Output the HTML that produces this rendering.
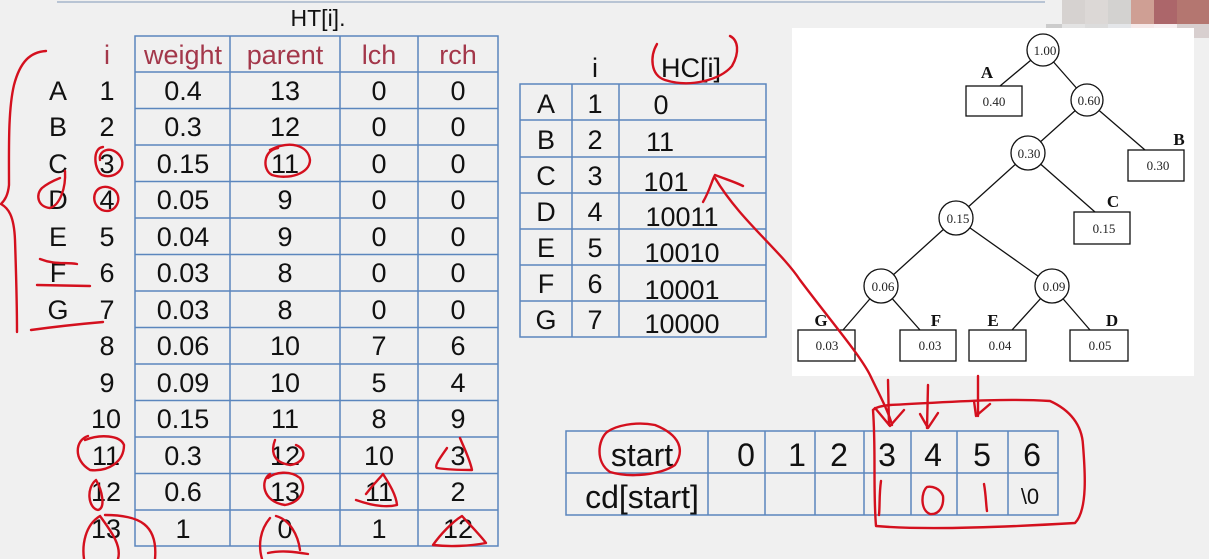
<!DOCTYPE html>
<html><head><meta charset="utf-8"><style>
html,body{margin:0;padding:0;background:#f0f0f0;}
svg{display:block;}
.t{font-family:"Liberation Sans","Noto Sans CJK SC",sans-serif;font-size:27px;fill:#111;text-anchor:middle;}
.h{fill:#a3374a;}
.u{font-size:32px;}
.s{font-family:"Liberation Serif",serif;font-size:13px;fill:#222;text-anchor:middle;}
.b{font-family:"Liberation Serif",serif;font-size:17px;font-weight:bold;fill:#111;text-anchor:middle;}
.r{fill:none;stroke:#d4101e;stroke-width:2.4;stroke-linecap:round;stroke-linejoin:round;}
</style></head><body>
<svg width="1209" height="559" viewBox="0 0 1209 559" xmlns="http://www.w3.org/2000/svg">
<rect width="1209" height="559" fill="#f0f0f0"/>
<line x1="57" y1="2" x2="1045" y2="2" stroke="#b8c4d4" stroke-width="2"/>
<rect x="1062" y="0" width="23" height="24" fill="#d6d2d0"/><rect x="1085" y="0" width="23" height="24" fill="#dcd8d6"/><rect x="1108" y="0" width="23" height="24" fill="#d3d2d0"/><rect x="1131" y="0" width="23" height="24" fill="#cf9f94"/><rect x="1154" y="0" width="23" height="24" fill="#ac666a"/><rect x="1177" y="0" width="32" height="24" fill="#b47670"/>
<rect x="1046" y="24" width="16" height="14" fill="#cccccc"/><rect x="1062" y="24" width="23" height="14" fill="#e3e3e3"/><rect x="1085" y="24" width="23" height="14" fill="#dcdcdc"/><rect x="1108" y="24" width="23" height="14" fill="#e4e6e9"/><rect x="1131" y="24" width="23" height="14" fill="#f5e8e8"/><rect x="1154" y="24" width="23" height="14" fill="#f7eef0"/><rect x="1177" y="24" width="32" height="14" fill="#d8cfcf"/>

<text class="t" x="318" y="26" style="font-size:23px">HT[i].</text>
<g stroke="#5b86bd" stroke-width="1.5" fill="none">
<rect x="135" y="36" width="363" height="510"/>
<line x1="230" y1="36" x2="230" y2="546"/><line x1="340" y1="36" x2="340" y2="546"/><line x1="418" y1="36" x2="418" y2="546"/>
<line x1="135" y1="72" x2="498" y2="72"/><line x1="135" y1="108.5" x2="498" y2="108.5"/><line x1="135" y1="145" x2="498" y2="145"/><line x1="135" y1="181.5" x2="498" y2="181.5"/><line x1="135" y1="218" x2="498" y2="218"/><line x1="135" y1="254.5" x2="498" y2="254.5"/><line x1="135" y1="291" x2="498" y2="291"/><line x1="135" y1="327.5" x2="498" y2="327.5"/><line x1="135" y1="364" x2="498" y2="364"/><line x1="135" y1="400.5" x2="498" y2="400.5"/><line x1="135" y1="437" x2="498" y2="437"/><line x1="135" y1="473.5" x2="498" y2="473.5"/><line x1="135" y1="510" x2="498" y2="510"/>
</g>
<text class="t h" x="107" y="64">i</text><text class="t h" x="183" y="64">weight</text><text class="t h" x="285" y="64">parent</text><text class="t h" x="379" y="64">lch</text><text class="t h" x="458" y="64">rch</text>
<g>
<text class="t" x="58" y="100">A</text><text class="t" x="107" y="100">1</text><text class="t" x="183" y="100">0.4</text><text class="t" x="285" y="100">13</text><text class="t" x="379" y="100">0</text><text class="t" x="458" y="100">0</text>
<text class="t" x="58" y="136">B</text><text class="t" x="107" y="136">2</text><text class="t" x="183" y="136">0.3</text><text class="t" x="285" y="136">12</text><text class="t" x="379" y="136">0</text><text class="t" x="458" y="136">0</text>
<text class="t" x="58" y="173">C</text><text class="t" x="107" y="173">3</text><text class="t" x="183" y="173">0.15</text><text class="t" x="285" y="173">11</text><text class="t" x="379" y="173">0</text><text class="t" x="458" y="173">0</text>
<text class="t" x="58" y="209">D</text><text class="t" x="107" y="209">4</text><text class="t" x="183" y="209">0.05</text><text class="t" x="285" y="209">9</text><text class="t" x="379" y="209">0</text><text class="t" x="458" y="209">0</text>
<text class="t" x="58" y="246">E</text><text class="t" x="107" y="246">5</text><text class="t" x="183" y="246">0.04</text><text class="t" x="285" y="246">9</text><text class="t" x="379" y="246">0</text><text class="t" x="458" y="246">0</text>
<text class="t" x="58" y="282">F</text><text class="t" x="107" y="282">6</text><text class="t" x="183" y="282">0.03</text><text class="t" x="285" y="282">8</text><text class="t" x="379" y="282">0</text><text class="t" x="458" y="282">0</text>
<text class="t" x="58" y="319">G</text><text class="t" x="107" y="319">7</text><text class="t" x="183" y="319">0.03</text><text class="t" x="285" y="319">8</text><text class="t" x="379" y="319">0</text><text class="t" x="458" y="319">0</text>
<text class="t" x="107" y="355">8</text><text class="t" x="183" y="355">0.06</text><text class="t" x="285" y="355">10</text><text class="t" x="379" y="355">7</text><text class="t" x="458" y="355">6</text>
<text class="t" x="107" y="392">9</text><text class="t" x="183" y="392">0.09</text><text class="t" x="285" y="392">10</text><text class="t" x="379" y="392">5</text><text class="t" x="458" y="392">4</text>
<text class="t" x="106" y="428">10</text><text class="t" x="183" y="428">0.15</text><text class="t" x="285" y="428">11</text><text class="t" x="379" y="428">8</text><text class="t" x="458" y="428">9</text>
<text class="t" x="106" y="465">11</text><text class="t" x="183" y="465">0.3</text><text class="t" x="285" y="465">12</text><text class="t" x="379" y="465">10</text><text class="t" x="458" y="465">3</text>
<text class="t" x="106" y="501">12</text><text class="t" x="183" y="501">0.6</text><text class="t" x="285" y="501">13</text><text class="t" x="379" y="501">11</text><text class="t" x="458" y="501">2</text>
<text class="t" x="106" y="538">13</text><text class="t" x="183" y="538">1</text><text class="t" x="285" y="538">0</text><text class="t" x="379" y="538">1</text><text class="t" x="458" y="538">12</text>
</g>

<text class="t" x="595" y="77">i</text><text class="t" x="691" y="77">HC[i]</text>
<g stroke="#5b86bd" stroke-width="1.5" fill="none">
<rect x="520" y="84" width="246" height="253"/>
<line x1="572" y1="84" x2="572" y2="337"/><line x1="619" y1="84" x2="619" y2="337"/>
<line x1="520" y1="120" x2="766" y2="120"/><line x1="520" y1="157" x2="766" y2="157"/><line x1="520" y1="193" x2="766" y2="193"/><line x1="520" y1="229" x2="766" y2="229"/><line x1="520" y1="265" x2="766" y2="265"/><line x1="520" y1="301" x2="766" y2="301"/>
</g>
<text class="t" x="546" y="113">A</text><text class="t" x="595" y="113">1</text><text class="t" x="661" y="114">0</text>
<text class="t" x="546" y="149">B</text><text class="t" x="595" y="149">2</text><text class="t" x="660" y="151">11</text>
<text class="t" x="546" y="185">C</text><text class="t" x="595" y="185">3</text><text class="t" x="666" y="191">101</text>
<text class="t" x="546" y="221">D</text><text class="t" x="595" y="221">4</text><text class="t" x="682" y="226">10011</text>
<text class="t" x="546" y="257">E</text><text class="t" x="595" y="257">5</text><text class="t" x="682" y="262">10010</text>
<text class="t" x="546" y="293">F</text><text class="t" x="595" y="293">6</text><text class="t" x="682" y="299">10001</text>
<text class="t" x="546" y="329">G</text><text class="t" x="595" y="329">7</text><text class="t" x="682" y="333">10000</text>

<rect x="792" y="28" width="402" height="348" fill="#fff"/>
<g stroke="#111" stroke-width="1.3" fill="none">
<line x1="1043" y1="50" x2="1000" y2="86"/><line x1="1043" y1="50" x2="1087" y2="100"/>
<line x1="1087" y1="100" x2="1028" y2="153"/><line x1="1087" y1="100" x2="1145" y2="150"/>
<line x1="1028" y1="153" x2="956" y2="218"/><line x1="1028" y1="153" x2="1095" y2="212"/>
<line x1="956" y1="218" x2="881" y2="286"/><line x1="956" y1="218" x2="1052" y2="286"/>
<line x1="881" y1="286" x2="843" y2="330"/><line x1="881" y1="286" x2="920" y2="330"/>
<line x1="1052" y1="286" x2="1012" y2="330"/><line x1="1052" y1="286" x2="1090" y2="330"/>
</g>
<g stroke="#111" stroke-width="1.3" fill="#fff">
<circle cx="1043" cy="50" r="16"/><circle cx="1087" cy="100" r="16"/><circle cx="1028" cy="153" r="17"/><circle cx="956" cy="218" r="17"/><circle cx="881" cy="286" r="17"/><circle cx="1052" cy="286" r="17"/>
<rect x="966" y="86" width="56" height="30"/><rect x="1128" y="150" width="56" height="31"/><rect x="1074" y="212" width="56" height="32"/>
<rect x="798" y="330" width="57" height="31"/><rect x="900" y="330" width="56" height="31"/><rect x="969" y="330" width="57" height="31"/><rect x="1070" y="330" width="58" height="31"/>
</g>
<text class="s" x="1045" y="55">1.00</text><text class="s" x="1089" y="105">0.60</text><text class="s" x="1029" y="158">0.30</text><text class="s" x="958" y="223">0.15</text><text class="s" x="883" y="291">0.06</text><text class="s" x="1054" y="291">0.09</text>
<text class="s" x="994" y="106">0.40</text><text class="s" x="1158" y="170">0.30</text><text class="s" x="1104" y="233">0.15</text>
<text class="s" x="827" y="350">0.03</text><text class="s" x="930" y="350">0.03</text><text class="s" x="1000" y="350">0.04</text><text class="s" x="1100" y="350">0.05</text>
<text class="b" x="987" y="78">A</text><text class="b" x="1179" y="145">B</text><text class="b" x="1113" y="207">C</text><text class="b" x="821" y="326">G</text><text class="b" x="936" y="326">F</text><text class="b" x="993" y="326">E</text><text class="b" x="1112" y="326">D</text>

<g stroke="#5b86bd" stroke-width="1.5" fill="none">
<rect x="566" y="431" width="492" height="84"/>
<line x1="566" y1="473" x2="1058" y2="473"/>
<line x1="708" y1="431" x2="708" y2="515"/><line x1="765" y1="431" x2="765" y2="515"/><line x1="815" y1="431" x2="815" y2="515"/><line x1="864" y1="431" x2="864" y2="515"/><line x1="911" y1="431" x2="911" y2="515"/><line x1="957" y1="431" x2="957" y2="515"/><line x1="1008" y1="431" x2="1008" y2="515"/>
</g>
<text class="t u" x="642" y="466">start</text><text class="t u" x="642" y="508">cd[start]</text>
<text class="t u" x="746" y="466">0</text><text class="t u" x="797" y="466">1</text><text class="t u" x="839" y="466">2</text><text class="t u" x="887" y="466">3</text><text class="t u" x="933" y="466">4</text><text class="t u" x="982" y="466">5</text><text class="t u" x="1032" y="466">6</text>
<text class="t" x="1030" y="504" style="font-size:22px">\0</text>

<g class="r">
<path d="M46,51 C30,52 20,62 14,85 C8,110 9,150 9,185 C8,195 5,200 1,204 C8,208 14,215 15,240 C16,270 17,300 17,332"/>
<path d="M103,147 C92,148 94,170 102,175 C114,180 128,168 120,156 C112,145 98,150 100,160"/>
<path d="M65,171 C66,188 60,205 50,208 C38,207 35,195 42,188 C48,183 55,180 60,178"/>
<path d="M100,188 C92,192 92,205 102,210 C112,214 120,205 118,196 C116,188 106,185 100,188"/>
<path d="M40,259 C55,265 65,262 77,264"/><path d="M37,285 L90,286"/><path d="M31,330 C60,326 80,324 103,322"/>
<path d="M278,148 C263,150 262,170 272,175 C288,180 310,174 310,160 C308,145 290,140 270,150"/>
<path d="M88,436 C75,440 73,460 90,470 C108,472 124,462 124,445 C120,435 100,434 85,440"/>
<path d="M96,480 C86,488 88,508 98,510 C106,508 102,490 96,480"/>
<path d="M100,516 C85,525 82,545 84,559 M105,515 C140,515 158,525 155,559 M100,516 C110,530 122,545 118,559"/>
<path d="M275,440 C272,448 270,462 290,465 C305,463 308,450 296,445"/>
<path d="M270,474 C260,480 262,502 285,505 C302,502 307,488 300,478 C290,470 275,472 268,478"/>
<path d="M270,518 C260,530 258,545 262,559 M276,516 C290,520 298,535 300,550 M268,553 C282,550 295,552 308,554"/>
<path d="M366,494 C375,482 380,478 383,474 C388,482 396,494 397,505 C385,508 370,505 356,500"/>
<path d="M447,448 C440,458 434,466 437,468 C450,470 462,470 472,470 C470,460 465,450 460,438"/>
<path d="M433,545 C440,535 452,522 462,516 C470,525 480,535 486,543 C470,546 450,547 433,545"/>
<path d="M657,44 C650,56 650,75 665,80 C690,88 720,80 732,66 C740,52 738,40 730,36"/>
<path d="M703,202 C710,190 712,180 715,175 C728,180 735,182 743,186"/>
<path d="M715,178 C740,220 780,250 800,280 C830,320 860,355 870,375 C878,392 888,410 892,425"/>
<path d="M607,432 C598,440 595,462 610,472 C630,478 660,475 675,465 C685,450 680,435 655,425 C635,421 615,426 607,432"/>
<path d="M873,410 C876,450 873,490 876,526 C920,530 990,528 1075,523 C1088,510 1085,470 1083,445 C1082,425 1070,410 1050,401 C1000,398 950,402 890,405 C880,406 875,408 873,410"/>
<path d="M888,380 L889,425 M875,408 L890,426 L904,410"/>
<path d="M928,385 L927,428 M920,414 L928,428 L938,413"/>
<path d="M978,376 L978,416 M974,401 L976,416 L990,404"/>
<path d="M881,481 C879,495 880,505 879,515"/>
<path d="M927,487 C921,492 920,510 930,514 C940,515 944,505 943,496 C940,488 932,486 927,487"/>
<path d="M984,484 C986,495 986,505 987,511"/>
</g>
</svg>
</body></html>
